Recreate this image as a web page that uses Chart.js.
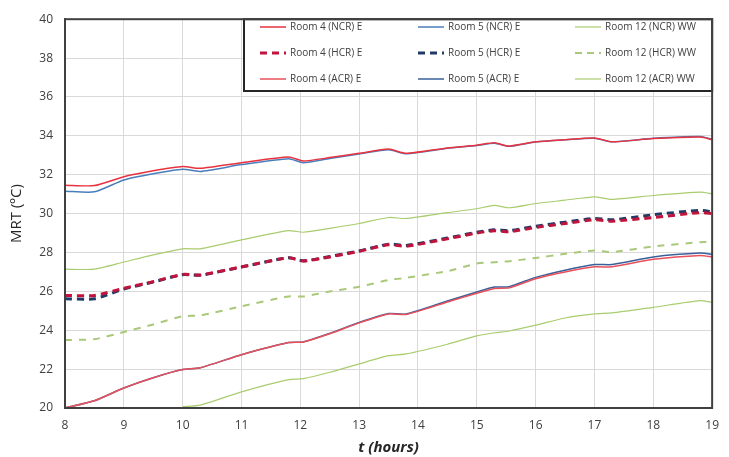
<!DOCTYPE html>
<html>
<head>
<meta charset="utf-8">
<script src="https://cdn.jsdelivr.net/npm/chart.js@4"></script>
<style>
  html, body { margin: 0; padding: 0; background: #fff; }
  #wrap { width: 729px; height: 457px; }
</style>
</head>
<body>
<div id="wrap"><canvas id="myChart" width="729" height="457"></canvas></div>
<script>
// time of day (hours)
const hours = [8, 8.5, 9, 9.5, 10, 10.3, 11, 11.8, 12.05, 12.5, 13, 13.5, 13.8, 14.5, 15, 15.3, 15.55, 16, 16.5, 17, 17.3, 18, 18.8, 19];

const room4NCR  = [31.46, 31.44, 31.9, 32.2, 32.42, 32.33, 32.62, 32.91, 32.71, 32.88, 33.1, 33.32, 33.1, 33.38, 33.52, 33.64, 33.47, 33.69, 33.8, 33.89, 33.69, 33.86, 33.94, 33.8];
const room5NCR  = [31.15, 31.12, 31.73, 32.05, 32.28, 32.17, 32.52, 32.82, 32.62, 32.84, 33.07, 33.29, 33.08, 33.36, 33.5, 33.62, 33.46, 33.68, 33.8, 33.88, 33.69, 33.87, 33.96, 33.82];
const room12NCR = [27.14, 27.14, 27.51, 27.88, 28.19, 28.19, 28.65, 29.12, 29.04, 29.24, 29.49, 29.8, 29.75, 30.05, 30.25, 30.42, 30.3, 30.52, 30.69, 30.86, 30.73, 30.93, 31.1, 31.02];
const room4HCR  = [25.79, 25.79, 26.16, 26.5, 26.87, 26.84, 27.26, 27.73, 27.56, 27.77, 28.06, 28.4, 28.32, 28.7, 29.0, 29.12, 29.07, 29.29, 29.49, 29.68, 29.61, 29.8, 30.05, 30.0];
const room5HCR  = [25.62, 25.62, 26.12, 26.48, 26.86, 26.83, 27.25, 27.73, 27.57, 27.79, 28.08, 28.43, 28.36, 28.74, 29.04, 29.17, 29.12, 29.35, 29.56, 29.75, 29.68, 29.94, 30.17, 30.09];
const room12HCR = [23.5, 23.54, 23.91, 24.3, 24.72, 24.76, 25.23, 25.74, 25.74, 25.99, 26.24, 26.58, 26.7, 27.04, 27.43, 27.5, 27.55, 27.72, 27.93, 28.1, 28.02, 28.31, 28.53, 28.53];
const room4ACR  = [20.0, 20.37, 21.03, 21.56, 21.98, 22.07, 22.74, 23.37, 23.4, 23.82, 24.38, 24.84, 24.81, 25.45, 25.9, 26.15, 26.18, 26.65, 27.0, 27.26, 27.26, 27.65, 27.85, 27.77];
const room5ACR  = [20.0, 20.37, 21.03, 21.56, 21.98, 22.07, 22.74, 23.37, 23.4, 23.84, 24.4, 24.86, 24.83, 25.5, 25.97, 26.22, 26.24, 26.72, 27.09, 27.38, 27.38, 27.77, 27.97, 27.9];
const room12ACR = [null, null, null, null, 20.07, 20.15, 20.83, 21.46, 21.51, 21.84, 22.27, 22.69, 22.78, 23.28, 23.71, 23.87, 23.96, 24.26, 24.63, 24.84, 24.89, 25.18, 25.52, 25.43];

const xTicks = [8, 9, 10, 11, 12, 13, 14, 15, 16, 17, 18, 19];
const yTicks = [20, 22, 24, 26, 28, 30, 32, 34, 36, 38, 40];

const labels = ["Room 4 (NCR) E", "Room 5 (NCR) E", "Room 12 (NCR) WW",
                "Room 4 (HCR) E", "Room 5 (HCR) E", "Room 12 (HCR) WW",
                "Room 4 (ACR) E", "Room 5 (ACR) E", "Room 12 (ACR) WW"];

function pts(arr) {
    return hours.map((h, i) => ({ x: h, y: arr[i] }));
}

function line(label, arr, color, width, dash) {
    return {
        label: label,
        data: pts(arr),
        borderColor: color,
        backgroundColor: color,
        borderWidth: width,
        borderDash: dash || [],
        pointRadius: 0,
        tension: 0.2,
        fill: false
    };
}

// legend drawn in a framed box at top right, 3 columns
const boxLegend = {
    id: 'boxLegend',
    afterDraw(chart) {
        const ctx = chart.ctx;
        const a = chart.chartArea;
        const left = 244, top = a.top, right = a.right, bottom = 91;
        ctx.save();
        ctx.fillStyle = '#fff';
        ctx.fillRect(left, top, right - left, bottom - top);
        ctx.strokeStyle = '#262626';
        ctx.lineWidth = 2;
        ctx.strokeRect(left, top, right - left, bottom - top);
        const colX = [260, 418, 575];
        const rowY = [27, 53, 79];
        ctx.font = '10px "Open Sans", sans-serif';
        ctx.textBaseline = 'middle';
        chart.data.datasets.forEach(function (ds, i) {
            const cx = colX[i % 3], cy = rowY[Math.floor(i / 3)];
            ctx.strokeStyle = ds.borderColor;
            ctx.lineWidth = ds.borderWidth;
            ctx.setLineDash(ds.borderDash.length ? [7, 5] : []);
            ctx.beginPath();
            ctx.moveTo(cx, cy);
            ctx.lineTo(cx + 26, cy);
            ctx.stroke();
            ctx.setLineDash([]);
            ctx.fillStyle = '#404040';
            ctx.fillText(ds.label, cx + 30, cy);
        });
        // frame of the plot area
        ctx.strokeStyle = '#404040';
        ctx.lineWidth = 2;
        ctx.strokeRect(a.left, a.top, a.right - a.left, a.bottom - a.top);
        ctx.restore();
    }
};

const ctx = document.getElementById('myChart').getContext('2d');
const chart = new Chart(ctx, {
    type: 'line',
    data: {
        datasets: [
            line(labels[0], room4NCR, '#e8323f', 1.5),
            line(labels[1], room5NCR, '#4a7ebb', 1.5),
            line(labels[2], room12NCR, '#a9cc6e', 1.2),
            line(labels[3], room4HCR, '#c0143c', 3, [7, 5]),
            line(labels[4], room5HCR, '#1f3b66', 3, [7, 5]),
            line(labels[5], room12HCR, '#a9c87a', 2, [7, 7]),
            line(labels[6], room4ACR, '#e8505a', 1.5),
            line(labels[7], room5ACR, '#3a5f9a', 1.5),
            line(labels[8], room12ACR, '#a9cc6e', 1.2)
        ]
    },
    options: {
        responsive: false,
        animation: false,
        layout: { padding: { left: 0, right: 11, top: 14, bottom: 0 } },
        plugins: {
            legend: { display: false },
            tooltip: { enabled: false }
        },
        scales: {
            x: {
                type: 'linear',
                min: 8,
                max: 19,
                afterBuildTicks: function (s) { s.ticks = xTicks.map(v => ({ value: v })); },
                afterFit: function (s) { s.height = 49; },
                grid: { color: '#d9d9d9', drawTicks: false },
                border: { color: '#404040', width: 2 },
                ticks: { color: '#404040', padding: 10, font: { family: 'Open Sans', size: 12 } },
                title: {
                    display: true,
                    text: 't (hours)',
                    color: '#262626',
                    padding: { top: 0, bottom: 0 },
                    font: { family: 'Open Sans', size: 15, style: 'italic', weight: 'bold' }
                }
            },
            y: {
                min: 20,
                max: 40,
                afterBuildTicks: function (s) { s.ticks = yTicks.map(v => ({ value: v })); },
                afterFit: function (s) { s.width = 65; },
                grid: { color: '#d9d9d9', drawTicks: false },
                border: { color: '#404040', width: 2 },
                ticks: { color: '#404040', padding: 12, font: { family: 'Open Sans', size: 12 } },
                title: {
                    display: true,
                    text: 'MRT (ºC)',
                    color: '#262626',
                    padding: { top: 8, bottom: 4 },
                    font: { family: 'Open Sans', size: 15 }
                }
            }
        }
    },
    plugins: [boxLegend]
});
</script>
</body>
</html>
